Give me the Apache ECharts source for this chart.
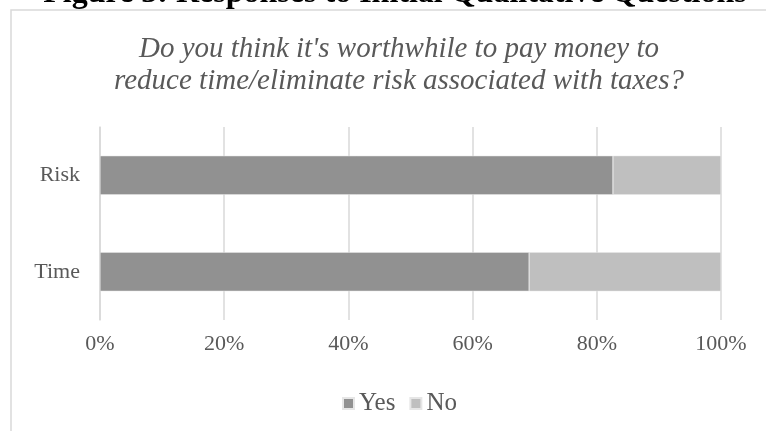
<!DOCTYPE html>
<html lang="en">
  <head>
    <meta charset="UTF-8" />
    <title>ECharts</title>
    <script src="https://cdn.jsdelivr.net/npm/echarts@6/dist/echarts.min.js"></script>
    <style>
      html, body { margin: 0; padding: 0; background: #fff; }
    </style>
  </head>

  <body>
    <div id="main" style="width: 766px; height: 431px"></div>

    <script>
      // data
      var categories = ["Risk", "Time"];
      var yesValues = [82.6, 69.1];
      var noValues = [17.4, 30.9];
      var tickLabels = ["0%", "20%", "40%", "60%", "80%", "100%"];

      var serif = "'Liberation Serif', 'Times New Roman', serif";
      var myChart = echarts.init(document.getElementById("main"));

      var option = {
        backgroundColor: "#fff",
        animation: false,
        graphic: [
          {
            type: "rect",
            shape: { x: 11, y: 10, width: 800, height: 500 },
            style: { fill: "none", stroke: "#d9d9d9", lineWidth: 1.5 },
            z: -1,
          },
          {
            type: "text",
            x: 395,
            y: 10,
            style: {
              text: "Figure 3: Responses to Initial Qualitative Questions",
              font: "bold 32px " + serif,
              fill: "#000",
              align: "center",
              verticalAlign: "bottom",
            },
          },
        ],
        title: {
          text: "Do you think it's worthwhile to pay money to\nreduce time/eliminate risk associated with taxes?",
          left: 394,
          textAlign: "center",
          top: 28,
          textStyle: {
            fontFamily: serif,
            fontStyle: "italic",
            fontWeight: "normal",
            fontSize: 29,
            lineHeight: 32,
            color: "#595959",
          },
        },
        legend: {
          data: ["Yes", "No"],
          bottom: 10,
          left: 337,
          itemWidth: 11,
          itemHeight: 11,
          itemGap: 14,
          icon: "rect",
          textStyle: { fontFamily: serif, fontSize: 25, color: "#595959" },
        },
        grid: { left: 100, right: 45, top: 127, bottom: 111 },
        xAxis: {
          type: "value",
          min: 0,
          max: 100,
          interval: 20,
          axisLine: { show: false },
          axisTick: { show: false },
          splitLine: { lineStyle: { color: "#d9d9d9", width: 1.5 } },
          axisLabel: {
            margin: 13,
            fontFamily: serif,
            fontSize: 22,
            color: "#595959",
            formatter: function (v) {
              return tickLabels[Math.round(v / 20)];
            },
          },
        },
        yAxis: {
          type: "category",
          data: categories,
          inverse: true,
          axisLine: { lineStyle: { color: "#d9d9d9", width: 1.5 } },
          axisTick: { show: false },
          axisLabel: {
            margin: 20,
            fontFamily: serif,
            fontSize: 22,
            color: "#595959",
          },
        },
        series: [
          {
            name: "Yes",
            type: "bar",
            stack: "total",
            barWidth: 39,
            data: yesValues,
            itemStyle: { color: "#919191", borderColor: "#e6e6e6", borderWidth: 0.5 },
          },
          {
            name: "No",
            type: "bar",
            stack: "total",
            barWidth: 39,
            data: noValues,
            itemStyle: { color: "#bfbfbf", borderColor: "#e6e6e6", borderWidth: 0.5 },
          },
        ],
      };
      myChart.setOption(option);
    </script>
  </body>
</html>
